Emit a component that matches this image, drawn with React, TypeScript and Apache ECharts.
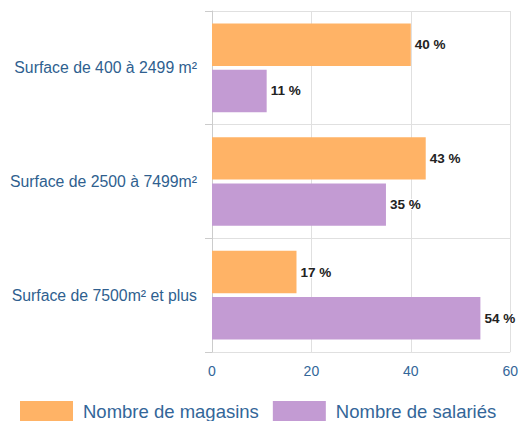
import React, { useEffect, useRef } from "react";
import * as echarts from "echarts";

const categories = ["Surface de 400 à 2499 m²", "Surface de 2500 à 7499m²", "Surface de 7500m² et plus"];
const magasins = [40, 43, 17];
const salaries = [11, 35, 54];
const seriesNames = ["Nombre de magasins", "Nombre de salariés"];

export default function App() {
  const ref = useRef<HTMLDivElement>(null);
  useEffect(() => {
    const chart = echarts.init(ref.current!, null, { renderer: "svg" });
    const label = {
      show: true,
      position: "right" as const,
      distance: 4,
      formatter: "{c} %",
      color: "#222",
      fontWeight: "bold" as const,
      fontSize: 13.5,
      fontFamily: "Liberation Sans, Arial, sans-serif",
      textBorderColor: "#fff",
      textBorderWidth: 2,
    };
    chart.setOption({
      animation: false,
      grid: { left: 212, right: 9, top: 11, bottom: 69 },
      legend: {
        top: 401,
        left: 20,
        itemWidth: 53,
        itemHeight: 20,
        itemGap: 14,
        padding: 0,
        icon: "rect",
        textStyle: {
          color: "#336699",
          fontSize: 18.5,
          padding: [0, 0, 0, 5],
          fontFamily: "Liberation Sans, Arial, sans-serif",
        },
        data: seriesNames,
      },
      xAxis: {
        type: "value",
        min: 0,
        max: 60,
        interval: 20,
        axisLine: { show: false },
        axisTick: { show: false },
        splitLine: { show: true, lineStyle: { color: "#e0e0e0" } },
        axisLabel: { color: "#336699", fontSize: 14, margin: 12, fontFamily: "Liberation Sans, Arial, sans-serif" },
      },
      yAxis: {
        type: "category",
        inverse: true,
        data: categories,
        axisLine: { show: true, lineStyle: { color: "#ccc" } },
        axisTick: { show: true, length: 7, lineStyle: { color: "#ccc" } },
        splitLine: { show: true, lineStyle: { color: "#e0e0e0" } },
        axisLabel: { color: "#2f5f8f", fontSize: 15.8, margin: 15, fontFamily: "Liberation Sans, Arial, sans-serif" },
      },
      series: [
        {
          name: seriesNames[0],
          type: "bar",
          data: magasins,
          itemStyle: { color: "#FFB366" },
          barCategoryGap: "22%",
          barGap: "9%",
          label,
        },
        {
          name: seriesNames[1],
          type: "bar",
          data: salaries,
          itemStyle: { color: "#C39BD3" },
          barCategoryGap: "22%",
          barGap: "9%",
          label,
        },
      ],
    });
    return () => chart.dispose();
  }, []);
  return <div ref={ref} style={{ width: 521, height: 421, position: "absolute", left: 0, top: 0 }} />;
}
